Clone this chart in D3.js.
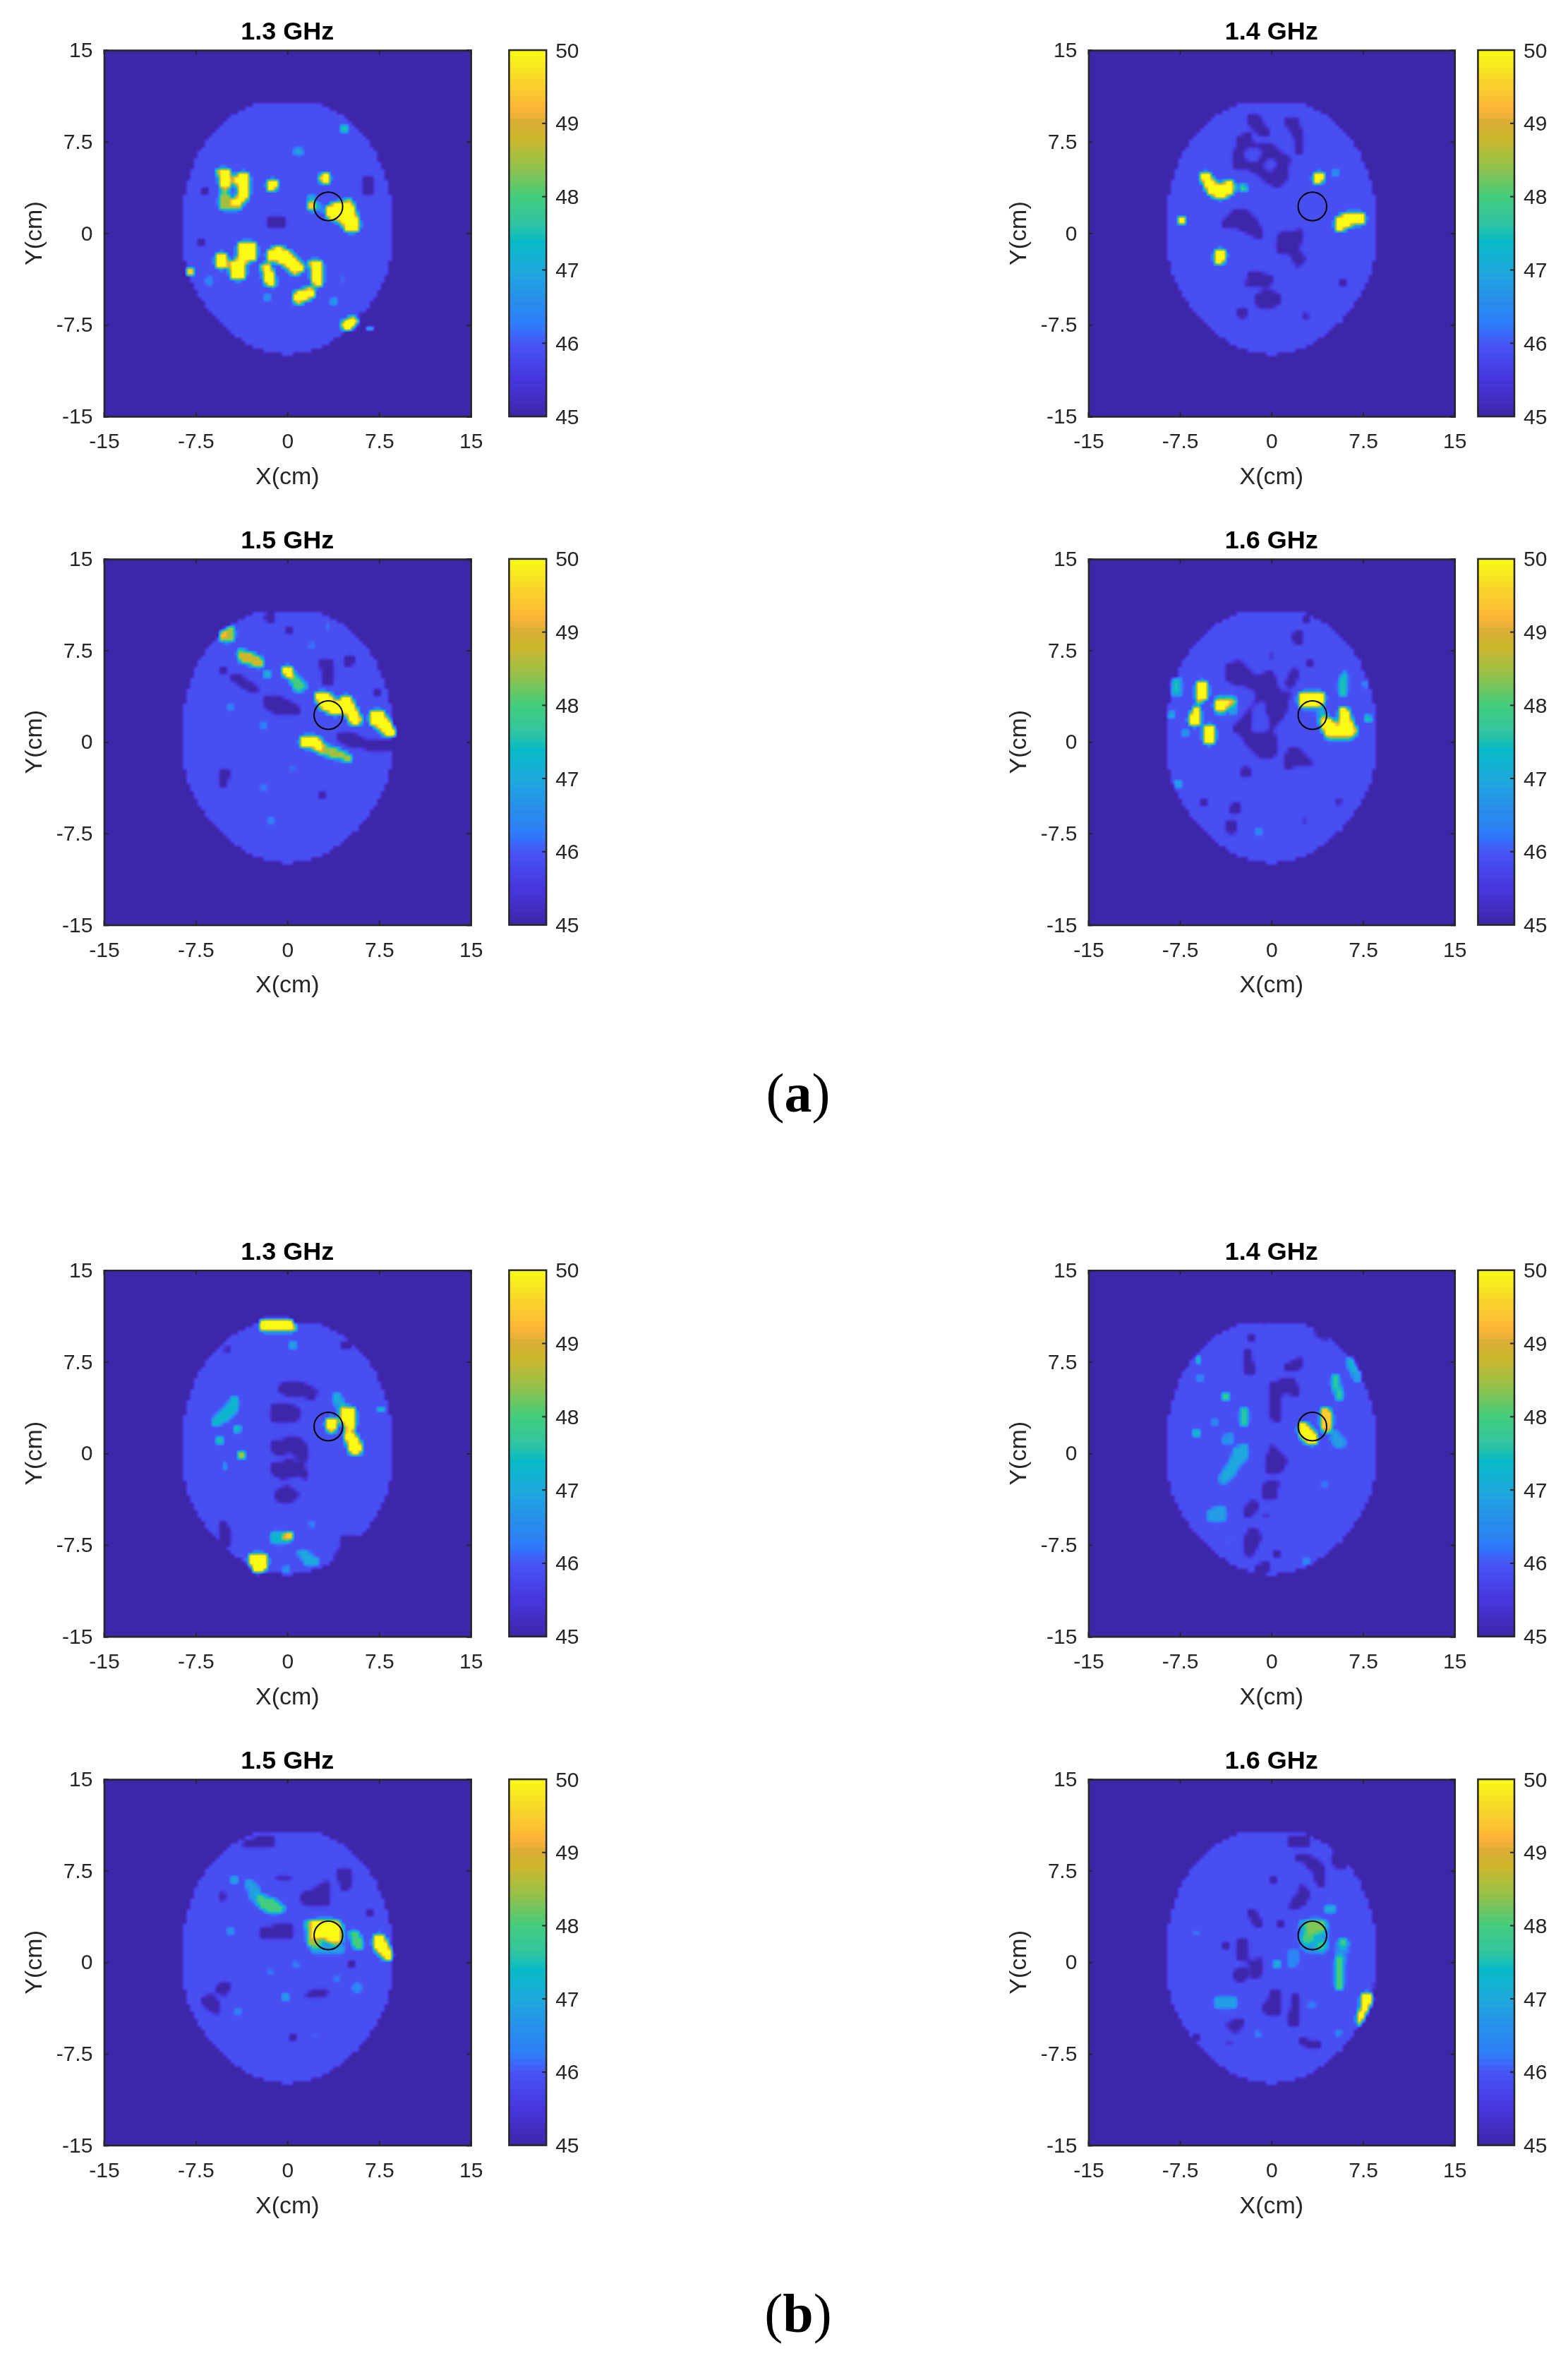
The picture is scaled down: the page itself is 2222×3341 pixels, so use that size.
<!DOCTYPE html>
<html lang="en">
<head>
<meta charset="utf-8">
<title>Temperature maps</title>
<script src="https://d3js.org/d3.v7.min.js"></script>
<style>
  body { margin: 0; padding: 0; background: #fff; overflow: hidden; }
  #map { position: absolute; left: 0; top: 0; }
  #chart { position: absolute; left: 0; top: 0; }
  text { font-family: "Liberation Sans", sans-serif; fill: #262626; }
</style>
</head>
<body>
<canvas id="map" width="2222" height="3341"></canvas>
<svg id="chart" width="2222" height="3341"></svg>
<script>
const xyTicks = [-15, -7.5, 0, 7.5, 15];
const barTicks = [45, 46, 47, 48, 49, 50];
const frequencies = ["1.3 GHz", "1.4 GHz", "1.5 GHz", "1.6 GHz"];
const captions = ["(a)", "(b)"];
const targetCentre = [3.35, 2.2];
const targetRadius = 1.17;
const insideLevel = 45.9;
const outsideLevel = 45;
const colourLevels = [45, 45.5, 46, 46.25, 46.5, 47, 47.4, 47.6, 48, 48.4, 48.8, 49, 49.2, 49.6, 50];
const colourStops = ["#3e26a8", "#4736de", "#4755f5", "#2f7dfa", "#2a8aee", "#1ea9dc", "#06bac6", "#2cc4a3", "#44cc7e", "#93c24a", "#ceb72c", "#d9ad34", "#feb438", "#f8d72a", "#f9fb15"];

// outline of the imaged region, cm
const headOutline = [[-1.7,10.8],[1.7,10.8],[2.6,10.65],[3.4,10.3],[4.5,9.7],[5.3,9.05],[6.4,7.8],[7.1,6.8],[7.6,5.8],[8.05,4.5],[8.3,3.6],[8.5,2.8],[8.5,-1.7],[8.35,-2.7],[8.1,-3.5],[7.5,-4.7],[6.7,-6],[5.7,-7.2],[4.2,-8.5],[3.4,-9],[2.4,-9.5],[1.1,-9.85],[0,-9.95],[-1.1,-9.85],[-2.4,-9.5],[-3.4,-9],[-4.2,-8.5],[-5.7,-7.2],[-6.7,-6],[-7.5,-4.7],[-8.1,-3.5],[-8.35,-2.7],[-8.5,-1.7],[-8.5,2.8],[-8.3,3.6],[-8.05,4.5],[-7.6,5.8],[-7.1,6.8],[-6.4,7.8],[-5.3,9.05],[-4.5,9.7],[-3.4,10.3],[-2.6,10.65]];

// regions per map: [level, x, y, radius] for a round spot, [level, x,y, x,y, ...] for a patch
const a13 = [
  [45,-6.8,3.5,.35],[45,6.2,4.5,7,4.5,7,3.4,6.6,3.2,6.2,3.6],[45,-1.6,1.3,-.2,1.3,-.2,.7,-1.6,.7],[45,-7,-.8,.25],
  [45,5.9,-6.5,7.2,-6.5,7.2,-8,5,-8.8,4.3,-8.8,5.1,-8,5.7,-7.1],
  [47,-5.3,3.9,-4.9,3.9,-4.9,2.8,-5.3,2.8],[48.5,-5.3,2.9,-3.9,2.7,-4,2.1,-5.3,2.2],
  [50,-5.6,5.1,-4.9,5.1,-4.7,3.9,-5.3,3.9],[50,-3.9,4.9,-3.2,4.8,-3.2,3.4,-3.6,2.6,-4.1,2.6,-3.9,3.6,-4.1,4.4],
  [50,-1.3,4,.45],[50,3.05,4.5,.4],[47,.9,6.7,.35],[47.5,4.6,8.6,.3],[46.8,1.7,3,2.1,3,2.6,2,2.2,1.8],[49.5,2,2.3,.3],
  [50,3.2,1.9,4.4,2.5,5,2.55,5.7,1,5.6,.3,5,.3,4.5,1.15,3.6,1.15],
  [50,-5.75,-1.85,-5.05,-1.85,-5.05,-2.85,-5.75,-2.85],[50,-4.65,-2.5,-3.65,-2.5,-3.65,-3.5,-4.65,-3.5],[50,-3.9,-1,-2.85,-1,-2.85,-2.25,-3.9,-2.25],
  [50,-1.6,-1.5,-.65,-1.3,.15,-1.85,1.15,-2.85,.65,-3.3,-.15,-2.5,-.8,-2.2,-1.6,-2.1],
  [50,-2,-2.6,-1.5,-2.6,-1.2,-4.2,-1.6,-4.2],[50,1.9,-2.35,2.8,-2.35,2.75,-4.1,2.3,-4.1],[50,.6,-5.1,1.9,-4.55,2.1,-5,.9,-5.6],
  [46.8,-.9,-4.4,.3],[46.5,-1.7,-5.2,.3],[46.5,-6.4,-3.9,.35],[46.4,4.5,-3.7,.3],[47,3.85,-5.6,.3],
  [50,4.6,-7.5,5.3,-7,5.6,-7.1,5,-7.9,4.7,-7.9],[49,6.7,-7.8,.2],[49.5,-8,-3.2,.25]
];
const a14 = [
  [45,-1.8,9.4,-1.2,9.7,-.9,8.9,-.3,8.4,-.6,8,-1.3,8.6,-1.7,8.9],[45,1.2,9.3,1.9,9.3,2.5,7.8,2.5,6.6,2.2,6.6,2.1,7.6],
  [45,-2.7,7.8,-1.7,8.05,-2.1,7.05,-.4,7.3,1.35,6.05,1.15,4.55,.3,3.9,-1.2,5.15,-3,5.5],
  [45.9,-2.2,6.8,-.8,6.8,-1.2,5.8,-2.2,6.05],[45.9,-.05,5.6,.6],
  [45,-4,.8,-3,1.8,-2.1,1.8,-1.1,.5,-1,-.2,-1.6,-.1,-2.5,.5,-3.7,.5],
  [45,.45,-.7,.85,0,2.4,.15,2.1,-1.5,2.6,-2.2,2.1,-2.6,1.6,-1.5,.7,-1.5],
  [45,-2,-4.25,-1.7,-3.35,0,-3.6,-.45,-4.1,-1.2,-4.35],[45,-1.25,-5.3,-.6,-4.9,.3,-5,.65,-5.4,0,-5.95,-.9,-5.95],
  [45,-2.4,-6.5,.45],[45,5.95,-4.05,.2],[45,2.75,-6.8,.15],
  [47,-3,3.65,.3],[48.5,-2.35,3.65,.25],
  [50,-5.65,4.8,-5.2,4.8,-4.75,3.9,-3.4,4.1,-3.4,3.4,-4.15,3.05,-4.9,3.3,-5.5,4.05],
  [50,-7.3,1.1,.4],[50,-4.6,-1.45,-3.95,-1.45,-4.1,-2.35,-4.6,-2.35],[50,3.85,4.55,.45],[46.5,5.3,4.9,.3],
  [50,5.3,1,6.2,1.5,6.9,1.6,7.45,1.55,7.45,.75,6.6,.85,5.9,.45,5.3,.4]
];
const a15 = [
  [45,-1.45,10.2,.4],[45,.2,9.15,.2],[45,2.8,6.5,3.7,6.5,3.7,4.8,3.1,4.8],[45,5,6.65,.5],[45,7.4,4.1,.35],[45,-5.3,5.9,.3],
  [45,-4.5,5.3,-4.2,5.5,-2.5,4.3,-2.7,4.1],[45,-1.7,3.7,-1.1,3.7,.9,2.7,.9,2.3,-.5,2.3,-1.7,2.9],
  [45,4.2,.7,4.7,.7,6.2,.1,8.6,0,8.6,-.7,6,-.4,4.7,-.1,4.2,.3],[45,-5.4,-2.5,-4.9,-2.5,-5.2,-3.5,-5.5,-3.5],[45,2.9,-4.35,.35],
  [48.5,-5.3,8.9,-4.6,9.4,-4.4,8.5,-5.3,8.5],[48.8,-3.9,7.35,-3.3,7.3,-2,6.6,-2.1,6.3,-3.2,6.5,-3.9,6.9],
  [48,.1,5.6,.6,5.4,1.4,4.4,.8,4.3],[50,0,5.8,.5],[47,-1.6,5.6,.25],
  [50,2.3,3.9,3.2,3.9,4.3,2.8,4.3,2.45,3.6,2.45,2.9,3],[50,4.4,3.5,5,3.5,6,1.7,5.4,1.6,4.4,2.9],[50,6.8,2.4,7.6,2.4,8.6,1,8.6,.6,8.2,.6,6.9,1.7],
  [50,1.05,.25,2.2,.25,3,-.5,2.4,-.5,1.1,-.1],[48.5,2.8,-.3,5,-1.2,5.2,-1.4,4,-1.3,2.8,-.8],
  [46.3,-4.65,2.75,.25],[46.3,-2,1.4,.2],[46.2,.4,-2.15,.2],[46.2,-2,-3.7,.2],[46.3,-1.45,-6.45,.25],[46.5,3.3,9.4,.2],[46.3,2,7.85,.2]
];
const a16 = [
  [45,-3.5,6.25,-2.7,6.45,-1.85,5.65,-1.2,5.15,.1,5.75,.2,4.15,1.35,3.9,1.1,2.65,-.2,1.1,.4,.1,.2,-1,-.7,-1.15,-1.95,-.1,-2.2,.6,-3.1,1.1,-1.95,2.25,-1.3,3.15,-.95,4,-1.95,4.75,-3.5,5],
  [45.9,-1.3,2.9,-.7,3.2,-.4,1.7,-.2,1.1,-.7,.9,-1.7,.9],
  [45,2.2,8.55,.5],[45,2.85,9.95,.35],[45,3.2,6.4,.35],[45,0,6.95,.2],[45,1.3,4.8,1.9,5.9,2,5.6,1.6,4.6],[45,1.1,-2,1.5,-.75,2.1,-.75,3.15,-1.75,2.1,-1.9],
  [45,-2.1,-2.45,.45],[45,-5.5,-4.95,.4],[45,-2.95,-5.5,.5],[45,-3.25,-7,.55],[45,2.7,-6.35,.3],[45,5.45,-4.9,.15],
  [50,-6,4.75,-5.4,4.75,-5.4,3.8,-5.9,3.4],[50,-6.4,2.75,-6,2.75,-5.95,1.6,-6.5,1.6],[50,-5.3,1.25,-4.8,1.25,-4.8,0,-5.3,0],
  [46.8,-4.65,3.5,-2.9,3.5,-2.9,2.4,-4.65,2.4],[50,-4.6,3.4,-3.9,3.4,-3.9,2.75,-4.6,2.75],[49.3,-3.9,3.35,-3,3.35,-3,3.15,-3.9,3.15],
  [46.8,-8,5.1,-7.6,5.1,-7.6,3.9,-8,3.9],[47.3,-8.15,2.2,.3],[46.6,-7.1,.75,.2],[46.8,-7.65,-3.5,.35],
  [50,2.5,3.9,4.05,3.9,4.05,3.1,3.6,3.05,2.5,3.05],[47,3.8,3.1,4.2,3.1,4.5,1.4,4.1,1.4],
  [50,4.15,1.75,4.75,1.75,5.3,.9,5.3,.5,4.5,.5],[50,5.65,2.75,6.1,2.75,6.75,.8,6.6,.35,5.7,.35],[47,4.5,.4,6.6,.4,6.6,.25,4.5,.25],
  [47.5,5.6,3.9,6,5.8,6.1,5.8,5.9,3.9],[48,7.85,1.9,.3],[46.5,7.7,4.75,.2],[46.4,-1.05,-7.3,.15]
];
const b13 = [
  [45,-.65,5.5,.9,5.75,2.25,5,2.1,4.6,.65,4.85,-.4,5],[45,-1.15,3.9,-.4,3.95,.9,3.6,.9,2.9,-.1,2.6,-1.1,2.6],
  [45,-1.15,1,.95,1.1,1.6,.5,1.6,-.5,.95,-.4,.4,.2,-1.05,.1],[45,-1.15,-1,.15,-.7,1.05,-.9,1.6,-2,.95,-1.5,-.4,-2,-1.05,-1.65],
  [45,-.85,-3.4,-.1,-2.8,.75,-3.3,.2,-3.9,-.6,-3.9],[45,-5.5,-5.8,-5.1,-5.8,-4.7,-6.9,-5,-7.5,-5.5,-7],[45,4.8,8.8,.4],[45,-4.9,8.45,.25],
  [45,4.4,-6.9,7,-6.9,7,-9,3.5,-9.2,4.4,-7.9],
  [50,-2,10.7,.4,10.7,.45,10.2,-2,10.2],[46.8,.45,8.95,.3],[47.3,-4.4,4.6,-4.1,4.6,-4.3,3.6,-5,2.9,-6,2.3,-6.1,2.6,-5.2,3.3,-4.7,3.9],
  [48,-4.1,2.05,.3],[47.5,-5.5,1,.3],[48.5,-3.8,-.1,.3],[47.3,-5.1,-1.15,.3],
  [47,3.9,4.7,4.1,4.7,4.6,3.6,4.3,3.6],[50,3.55,2.3,.55],[50,4.4,3.6,5.3,3.6,5.3,2,4.8,2],[48,4.7,2.1,5.1,2.1,5.3,1.3,4.9,1.3],[50,4.9,1.6,5.4,1.4,6.1,.2,5.4,.1,5,.8],
  [49,7.6,3.6,.28],[47.3,-1.1,-6.6,0,-6.6,0,-7.1,-1.1,-7.1],[49.5,.15,-6.75,.35],[46.4,2,-5.75,.2],
  [50,-3,-8.55,-1.9,-8.55,-1.9,-9.3,-2.2,-9.5,-2.8,-9.5],[47,1,-8,1.3,-8,1.9,-8.7,2.5,-8.8,2.5,-9.1,1.6,-9.1],[46.8,-.1,-9.55,.25]
];
const b14 = [
  [45,-6.3,8.15,.3],[45,-2.2,8.3,-1.8,8.3,-1.6,6.7,-2.2,6.7],[45,-1.6,9.5,.2],[45,1.1,7,2.5,7.75,2.5,7.4,1.6,6.75],
  [45,0,5.75,1.9,6,2.05,4.7,1.35,5.2,.6,5.1,.6,2.7,.1,3],[45,-.45,-1.5,.1,.5,1.1,-.5,.6,-1.65],[45,-.7,-3,-.2,-2.4,.45,-2.5,.2,-3.5,-.55,-3.5],
  [45,-2.1,-4.65,-1.6,-4,-1.2,-4.3,-2,-5.15],[45,-1.85,-6.3,-1.2,-6.3,-1,-7,-1.7,-8.3,-2.1,-7.9],[45,-.45,-5.1,.15],[45,.4,-8.2,.2],
  [45,-1.2,-9.4,-.2,-9,-.2,-9.4,-1.1,-9.7],[45,3.4,10.8,5,10.8,4.6,9.3,3.8,9.7],[45,-.6,10.7,.2],
  [49,-6,7.75,.3],[46.4,-5.85,6.2,.3],[47.8,-3.8,4.6,.3],[47.6,-2.5,3.6,-2.1,3.6,-2.1,2.35,-2.5,2.35],[46.4,-4.7,2.6,.35],[47.3,-6.1,1.6,.3],[46.6,-3.5,1.1,.45],
  [47,-3,.3,-2.1,.5,-2.1,0,-2.6,-.7,-3.85,-2.4,-4.1,-2,-3.2,-.9],[46.8,-5.2,-5,-4,-4.4,-3.9,-5.3,-5,-5.3],[46,-3.5,-7.15,.2],[46.4,2.9,-8.8,.2],[46.2,4.3,-2.6,.3],
  [50,2.3,2.2,2.7,2.3,3.7,1.3,3.7,.9,3,.95,2.4,1.6],[49.5,4.05,3.6,4.6,3.6,4.8,2.4,4.7,1.9,4.4,1.9],[46.8,4.7,2,5,2,5.9,.8,5.3,.5],
  [47.6,5,6.4,5.3,6.4,5.75,4.4,5.45,4.4],[46.8,6.2,7.7,6.6,7.7,7.3,6.1,7,6.1]
];
const b15 = [
  [45,-3.6,9.55,-2.5,10.05,-1.3,10.05,-1.3,9.55],[45,-1.05,7,.4,7,.4,6.8,-.95,6.75],[45,1.2,5.4,2.5,6,3.2,6.5,3.2,4.8,1.6,4.9],[45,4.25,7.4,5.1,7.4,5.1,6.4,4.5,5.9],
  [45,-5.35,5.4,.35],[45,6.75,4.05,.25],[45,-2.05,2.8,.15,2.9,.4,2.15,-2,2.05],[45,5.3,-.2,.25],[45,-5.75,-2.25,-5.3,-1.75,-4.8,-1.85,-5.2,-2.6],
  [45,-7,-3.2,-6.25,-2.85,-5.75,-3.25,-5.85,-4.1,-6.5,-3.6],[45,1.6,-2.75,2.65,-2.3,3.2,-2.55,2,-2.8],[45,.45,-6.25,.35],
  [46.8,-4.4,6.85,.35],[46.8,-3.2,6.45,-2.9,6.45,-2,5.2,-2.2,4.8,-3,5.5],[48,-2.1,5.25,-1.1,4.9,-.4,4.4,-1.1,4.2,-2.1,4.6],
  [46.8,1.6,3.4,4.4,3.4,4.4,1,2,1],[48.5,1.9,3.2,2.4,3.2,2.4,1.6,1.9,1.6],[50,2.4,3.2,4,3.2,4.3,1.7,3.8,1.7,3.2,2.2,2.4,2.4],
  [48,5.2,2.3,5.6,2.3,6.1,1.2,5.7,1.1],[50,7.1,2,7.6,2.1,8.5,.4,8.3,.3,7.2,1.2],
  [46.5,-4.65,2.65,.3],[46.4,.65,-.2,.3],[46.3,-1.5,-.9,.2],[46.7,-.2,-2.75,.35],[46.3,-4,-4.05,.25],[46.2,2.25,-6,.25],[46.5,5.7,-2.1,.35],[46.2,4.1,-1.3,.15]
];
const b16 = [
  [45,1.6,10.2,2.9,10.2,2.9,9.6,1.6,9.6],[45,5,9.6,7,9.6,5.9,7.8,5.3,7.8],[45,2.1,8.6,3,8.7,4.3,7.7,4.3,6.3,3.8,6.4,3.7,7.3,2.9,8.2],[45,.1,6.8,.2],
  [45,2.35,6.3,2.9,5.55,2.6,4.9,1.6,4.4,1.75,4.9,2.25,5.4],[45,-1.95,4.3,-1.6,4.3,-.8,3,-1.2,3],[45,.7,3.2,.2],[45,-3.8,1.4,.35],[45,-2.7,1.8,-2.1,1.8,-2,.3,-2.6,.15],
  [45,-1.7,0,-1,.15,-.9,-1,-1.45,-1.1],[45,-2.5,-1,.6],[45,.2,-2.35,.6,-2.35,.6,-4,.1,-4.35,-.55,-3.85],[45,1.85,-2.85,2.05,-2.85,2,-5.25,1.5,-5.1],
  [45,-3.5,-5.25,-2.85,-4.7,-2.45,-5,-3.1,-5.6],[45,-3.35,-6.6,.3],[45,-6.15,-6.25,.3],[45,2.35,-6.35,3.9,-6.75,3.1,-6.9],
  [45,7.35,-5.1,7.7,-4.25,8.1,-3,8.5,-1.85,9,-4.75,8.4,-5.1],
  [46.6,2.4,3.4,4.6,3.4,4.6,.8,3,.8,2.4,1.5],[47.2,3.5,2.3,.4],[48.3,2.9,3.2,3.4,3.3,4.1,3.2,4.2,2.7,3.6,2.9,2.9,2.7],[48,2.9,2,.35],[47.8,4.15,1.25,.35],
  [47,4.8,4.35,.45],[46.5,5.5,1.4,6.2,1.4,5.9,.3,5.4,.3],[47.8,5.9,1.55,.35],[48,5.3,.3,5.8,.3,5.8,-2,5.4,-2],[47,.5,-.1,.35],[46.4,1.6,.8,2.1,.8,1.9,-.2,1.6,-.2],
  [46.6,-6.15,2.4,.3],[46.8,-4.6,-3,-3,-3,-3,-3.7,-4.6,-3.7],[46.4,-1.2,-6,.2],[46.5,5.45,-5.75,.25],[46.3,3.3,-3.6,.2],[50,7.2,-5,7.6,-2.85,8.1,-2.85,7.7,-3.75]
];

const maps = [
  { data: a13, title: 0, col: 0, row: 0 }, { data: a14, title: 1, col: 1, row: 0 },
  { data: a15, title: 2, col: 0, row: 1 }, { data: a16, title: 3, col: 1, row: 1 },
  { data: b13, title: 0, col: 0, row: 2 }, { data: b14, title: 1, col: 1, row: 2 },
  { data: b15, title: 2, col: 0, row: 3 }, { data: b16, title: 3, col: 1, row: 3 }
];

// page layout
const colX = [[147.4, 667.2], [1542.4, 2061.3]];
const barX = [[721.4, 774.2], [2094.4, 2146]];
const rowY = [[71, 590.1], [791.9, 1310.5], [1799.7, 2318.8], [2521, 3039.6]];
const captionY = [1575, 3304];

const svg = d3.select("#chart");
const ctx = document.getElementById("map").getContext("2d");
const colour = d3.scaleLinear().domain(colourLevels).range(colourStops).clamp(true);

// grid of the reconstruction, one node every 0.3 cm
const step = 0.3;
const nodes = 101;

function setNode(grid, x, y, v) {
  const i = Math.round((x + 15) / step);
  const j = Math.round((y + 15) / step);
  if (i >= 0 && i < nodes && j >= 0 && j < nodes) grid[j * nodes + i] = v;
}

function paintPolygon(grid, poly, v) {
  for (let j = 0; j < nodes; j++) {
    for (let i = 0; i < nodes; i++) {
      if (d3.polygonContains(poly, [-15 + i * step, -15 + j * step])) grid[j * nodes + i] = v;
    }
  }
  // walk the edges too so that thin strips stay connected
  poly.forEach((p, k) => {
    const q = poly[(k + 1) % poly.length];
    const n = Math.ceil(Math.hypot(q[0] - p[0], q[1] - p[1]) / 0.15) + 1;
    for (let t = 0; t <= n; t++) {
      setNode(grid, p[0] + (q[0] - p[0]) * t / n, p[1] + (q[1] - p[1]) * t / n, v);
    }
  });
}

function paintRegion(grid, r) {
  const v = r[0];
  if (r.length === 4) {
    const cx = r[1], cy = r[2], rad = Math.max(r[3], step);
    for (let j = 0; j < nodes; j++) {
      for (let i = 0; i < nodes; i++) {
        if (Math.hypot(-15 + i * step - cx, -15 + j * step - cy) <= rad) grid[j * nodes + i] = v;
      }
    }
    setNode(grid, cx, cy, v);
    return;
  }
  const poly = [];
  for (let k = 1; k < r.length; k += 2) poly.push([r[k], r[k + 1]]);
  paintPolygon(grid, poly, v);
}

function buildGrid(regions) {
  const base = new Float32Array(nodes * nodes).fill(outsideLevel);
  for (let j = 0; j < nodes; j++) {
    for (let i = 0; i < nodes; i++) {
      if (d3.polygonContains(headOutline, [-15 + i * step, -15 + j * step])) base[j * nodes + i] = insideLevel;
    }
  }
  const painted = base.slice();
  regions.forEach(r => paintRegion(painted, r));

  // round the corners of the patches without making them any wider
  const kernel = [1, 2, 1];
  const grid = base.slice();
  for (let j = 1; j < nodes - 1; j++) {
    for (let i = 1; i < nodes - 1; i++) {
      let sum = 0, lo = 0, hi = 0;
      for (let b = -1; b <= 1; b++) {
        for (let a = -1; a <= 1; a++) {
          const n = (j + b) * nodes + i + a;
          const d = painted[n] - base[n];
          sum += d * kernel[a + 1] * kernel[b + 1] / 16;
          lo = Math.min(lo, d);
          hi = Math.max(hi, d);
        }
      }
      const peak = sum >= 0 ? hi : lo;
      if (peak === 0) continue;
      const ratio = Math.max(0, Math.min(1, (sum / peak - 0.2) / 0.35));
      grid[j * nodes + i] = base[j * nodes + i] + peak * ratio;
    }
  }
  return grid;
}

function drawField(grid, x, y) {
  const x0 = Math.round(x.range()[0]), x1 = Math.round(x.range()[1]);
  const y0 = Math.round(y.range()[1]), y1 = Math.round(y.range()[0]);
  const img = ctx.createImageData(x1 - x0, y1 - y0);
  let o = 0;
  for (let py = y0; py < y1; py++) {
    const gy = Math.min(nodes - 1.001, (y.invert(py + 0.5) + 15) / step);
    const j = Math.floor(gy), fy = gy - j;
    for (let px = x0; px < x1; px++) {
      const gx = Math.min(nodes - 1.001, (x.invert(px + 0.5) + 15) / step);
      const i = Math.floor(gx), fx = gx - i;
      const a = grid[j * nodes + i], b = grid[j * nodes + i + 1];
      const c = grid[(j + 1) * nodes + i], d = grid[(j + 1) * nodes + i + 1];
      const v = (a * (1 - fx) + b * fx) * (1 - fy) + (c * (1 - fx) + d * fx) * fy;
      const rgb = d3.rgb(colour(v));
      img.data[o++] = rgb.r; img.data[o++] = rgb.g; img.data[o++] = rgb.b; img.data[o++] = 255;
    }
  }
  ctx.putImageData(img, x0, y0);
}

function drawBar(scale, bx) {
  const x0 = Math.round(bx[0]), w = Math.round(bx[1]) - x0;
  const [bottom, top] = scale.range();
  d3.range(64).forEach(k => {
    const lo = 45 + k * 5 / 64, hi = 45 + (k + 1) * 5 / 64;
    ctx.fillStyle = colour((lo + hi) / 2);
    ctx.fillRect(x0, Math.round(scale(hi)), w, Math.round(scale(lo)) - Math.round(scale(hi)));
  });
  const g = svg.append("g");
  g.append("rect").attr("x", bx[0]).attr("y", top).attr("width", bx[1] - bx[0]).attr("height", bottom - top)
    .attr("fill", "none").attr("stroke", "#262626").attr("stroke-width", 2.5);
  g.selectAll("line").data(barTicks.slice(1, -1)).join("line")
    .attr("x1", bx[1] - 6).attr("x2", bx[1])
    .attr("y1", d => scale(d)).attr("y2", d => scale(d))
    .attr("stroke", "#262626").attr("stroke-width", 2);
  g.selectAll("text").data(barTicks).join("text")
    .attr("x", bx[1] + 13).attr("y", d => scale(d)).attr("dy", "0.35em")
    .attr("font-size", 30).text(d => d);
}

maps.forEach(m => {
  const xr = colX[m.col], yr = rowY[m.row];
  const x = d3.scaleLinear().domain([-15, 15]).range(xr);
  const y = d3.scaleLinear().domain([-15, 15]).range([yr[1], yr[0]]);
  drawField(buildGrid(m.data), x, y);

  const g = svg.append("g");
  const bottom = g.append("g").attr("transform", `translate(0,${yr[1]})`)
    .call(d3.axisBottom(x).tickValues(xyTicks).tickFormat(String).tickSize(-6).tickPadding(24));
  g.append("g").attr("transform", `translate(0,${yr[0]})`)
    .call(d3.axisTop(x).tickValues(xyTicks).tickFormat("").tickSize(-6));
  const left = g.append("g").attr("transform", `translate(${xr[0]},0)`)
    .call(d3.axisLeft(y).tickValues(xyTicks).tickFormat(String).tickSize(-6).tickPadding(16));
  g.append("g").attr("transform", `translate(${xr[1]},0)`)
    .call(d3.axisRight(y).tickValues(xyTicks).tickFormat("").tickSize(-6));
  g.selectAll(".domain").attr("stroke", "#262626").attr("stroke-width", 2.5);
  g.selectAll(".tick line").attr("stroke", "#262626").attr("stroke-width", 2);
  bottom.selectAll("text").attr("font-size", 30).attr("font-family", null);
  left.selectAll("text").attr("font-size", 30).attr("font-family", null);

  g.append("ellipse")
    .attr("cx", x(targetCentre[0])).attr("cy", y(targetCentre[1]))
    .attr("rx", x(targetRadius) - x(0)).attr("ry", y(0) - y(targetRadius))
    .attr("fill", "none").attr("stroke", "#000").attr("stroke-width", 2);

  const mid = (xr[0] + xr[1]) / 2;
  g.append("text").attr("x", mid).attr("y", yr[0] - 27).attr("dy", "0.35em")
    .attr("text-anchor", "middle").attr("font-size", 35).attr("font-weight", "bold")
    .attr("textLength", 132).attr("lengthAdjust", "spacingAndGlyphs")
    .style("fill", "#000").text(frequencies[m.title]);
  g.append("text").attr("x", mid).attr("y", yr[1] + 84).attr("dy", "0.35em")
    .attr("text-anchor", "middle").attr("font-size", 34).text("X(cm)");
  g.append("text").attr("transform", `translate(${xr[0] - 100},${(yr[0] + yr[1]) / 2}) rotate(-90)`)
    .attr("dy", "0.35em").attr("text-anchor", "middle").attr("font-size", 34).text("Y(cm)");

  drawBar(d3.scaleLinear().domain([45, 50]).range([yr[1], yr[0]]), barX[m.col]);
});

captions.forEach((c, i) => {
  const t = svg.append("text").attr("x", 1131).attr("y", captionY[i]).attr("text-anchor", "middle")
    .attr("font-size", 78).style("font-family", '"Liberation Serif", serif').style("fill", "#000");
  t.append("tspan").text("(");
  t.append("tspan").attr("font-weight", "bold").text(c[1]);
  t.append("tspan").text(")");
});
</script>
</body>
</html>
